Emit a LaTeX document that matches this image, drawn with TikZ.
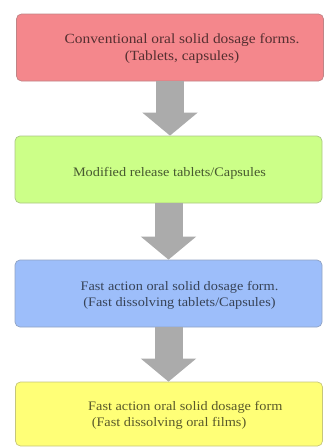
\documentclass[tikz,border=0pt]{standalone}
\usepackage{fontspec}
\setmainfont{Liberation Serif}[FakeStretch=1.1]
\usetikzlibrary{arrows.meta, positioning}
\definecolor{stageconv}{HTML}{F4878C}
\definecolor{stagemod}{HTML}{CCFF88}
\definecolor{stagefast}{HTML}{9DBEFA}
\definecolor{stagefilm}{HTML}{FFFF77}
\definecolor{flowgray}{HTML}{ABABAB}

\begin{document}
\begin{tikzpicture}[x=1pt, y=-1pt,
    stage/.style={rectangle, rounded corners=5pt, minimum width=307pt,
                  minimum height=67pt, draw=#1!55!gray, fill=#1, line width=0.7pt},
    caption/.style={font=\fontsize{13}{16}\selectfont, align=center,
                    text=#1!35!black, inner sep=0pt},
    flow/.style={line width=28pt, color=flowgray,
                 -{Triangle[length=23pt, width=54pt]}}
  ]
    \useasboundingbox (0,0) rectangle (325,447);

    % Stages
    \node[stage=stageconv] (conv) at (170, 47.5)  {};
    \node[stage=stagemod]  (mod)  at (168.5, 169.5) {};
    \node[stage=stagefast] (fast) at (168.5, 293.5) {};
    \node[stage=stagefilm, minimum height=64pt] (film) at (169, 414) {};

    % Captions
    \node[caption=stageconv, font=\fontsize{14}{17}\selectfont] (convtext) at (182, 49)
      {Conventional oral solid dosage forms.\\(Tablets, capsules)};
    \node[caption=stagemod]  (modtext)  at (169.5, 173)
      {Modified release tablets/Capsules};
    \node[caption=stagefast] (fasttext) at (179.5, 295)
      {Fast action oral solid dosage form.\\(Fast dissolving tablets/Capsules)};
    \node[caption=stagefilm, align=left, anchor=west] (filmtext) at (88, 415)
      {Fast action oral solid dosage form\\\ (Fast dissolving oral films)};

    % Arrows
    \draw[flow] (conv.south) -- (conv.south |- mod.north);
    \draw[flow] (mod.south)  -- (fast.north);
    \draw[flow] (fast.south) -- (fast.south |- film.north);
  \end{tikzpicture}
\end{document}
